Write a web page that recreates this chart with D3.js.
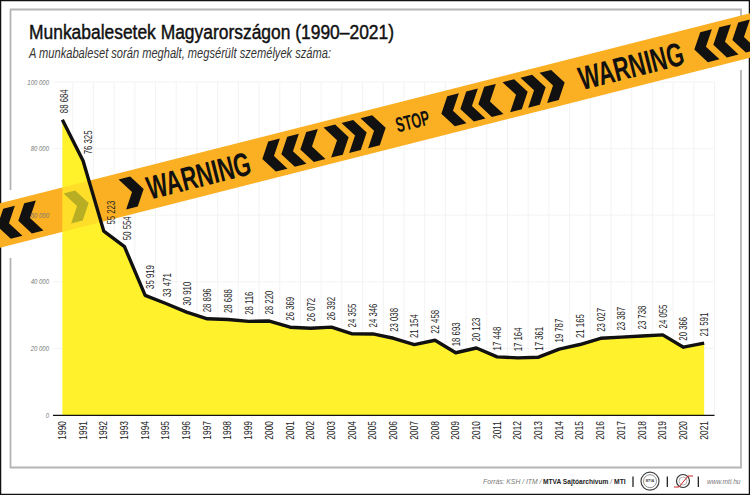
<!DOCTYPE html>
<html>
<head>
<meta charset="utf-8">
<script src="https://cdn.jsdelivr.net/npm/d3@7/dist/d3.min.js"></script>
<style>
    html, body { margin: 0; padding: 0; background: #fff; }
    svg { display: block; }
    text { font-family: "Liberation Sans", sans-serif; }
</style>
</head>
<body>
<svg id="chart" width="750" height="495"></svg>
<script>
var years = [1990, 1991, 1992, 1993, 1994, 1995, 1996, 1997, 1998, 1999, 2000,
    2001, 2002, 2003, 2004, 2005, 2006, 2007, 2008, 2009, 2010,
    2011, 2012, 2013, 2014, 2015, 2016, 2017, 2018, 2019, 2020, 2021];

var accidents = [88684, 76325, 55223, 50554, 35919, 33471, 30910, 28896, 28688, 28116, 28220,
    26369, 26072, 26392, 24355, 24346, 23038, 21154, 22458, 18693, 20123,
    17448, 17164, 17361, 19787, 21165, 23027, 23387, 23738, 24055, 20366, 21591];

var yTicks = [0, 20000, 40000, 60000, 80000, 100000];

var titleText = 'Munkabalesetek Magyarországon (1990–2021)';
var subtitleText = 'A munkabaleset során meghalt, megsérült személyek száma:';

// hand-placed labels on the steep part of the curve
var labelNudge = {1990: 1.5, 1991: 5, 1992: 7.5, 1993: 2.5, 1994: 5, 1995: 1.5};

// tape decoration: position along the strip (page x) and pointing direction
var tapeChevrons = [
    [8, -1], [29, -1], [78, 1], [133, 1],
    [273, -1], [292, -1], [311, -1], [338, 1], [356, 1], [375, 1],
    [452, -1], [471, -1], [489, -1], [517, 1], [535, 1], [554, 1],
    [705, -1], [724, -1], [743, -1]
];
var tapeWords = [
    {text: 'WARNING', from: 147, to: 250, size: 33},
    {text: 'STOP', from: 396, to: 429, size: 21},
    {text: 'WARNING', from: 579, to: 683, size: 33}
];

// footer pieces: text, left, right, bold?
var footerParts = [
    ['Forrás: KSH / ITM /', 483, 541.5, false],
    ['MTVA Sajtóarchívum', 543, 608.5, true],
    ['/', 610, 612, false],
    ['MTI', 614, 625.7, true],
    ['www.mti.hu', 707, 740.5, false]
];

var svg = d3.select('#chart');
var fmt = d3.formatLocale({decimal: ',', thousands: ' ', grouping: [3], currency: ['', '']}).format(',d');

var x = d3.scaleBand().domain(years).range([52, 714.5]);
var y = d3.scaleLinear().domain([0, 100000]).range([415, 82]);
var cx = function (d) { return x(d) + x.bandwidth() / 2; };

// outer border and grey frame (broken where the tape passes)
svg.append('rect').attr('x', 0.5).attr('y', 0.5).attr('width', 749).attr('height', 494)
    .attr('fill', 'none').attr('stroke', '#111').attr('stroke-width', 1.5);
svg.append('path')
    .attr('d', 'M10.5,190V9.5H741V17M741,70V467.5H10.5V258')
    .attr('fill', 'none').attr('stroke', '#b4b4b4').attr('stroke-width', 1.8);

// grid
svg.append('g').selectAll('line').data(yTicks.slice(1)).enter().append('line')
    .attr('x1', 52).attr('x2', 714.5)
    .attr('y1', function (d) { return y(d); }).attr('y2', function (d) { return y(d); })
    .attr('stroke', '#f0f0f0').attr('stroke-width', 0.8);
svg.append('g').selectAll('line').data(years).enter().append('line')
    .attr('x1', function (d) { return x(d) + x.bandwidth(); })
    .attr('x2', function (d) { return x(d) + x.bandwidth(); })
    .attr('y1', 82).attr('y2', 415)
    .attr('stroke', '#f0f0f0').attr('stroke-width', 0.8);

// tape
var tapeAngle = Math.atan(0.2533) * 180 / Math.PI;
var tapeScale = 1 / Math.cos(tapeAngle * Math.PI / 180);
function drawTape(parent) {
    var g = parent.append('g')
        .attr('transform', 'translate(0,225.5) rotate(' + (-tapeAngle) + ')');
    g.append('rect').attr('x', -20).attr('y', -21.5).attr('width', 820).attr('height', 43)
        .attr('fill', '#fbb024');
    g.selectAll('path').data(tapeChevrons).enter().append('path')
        .attr('transform', function (d) {
            return 'translate(' + d[0] * tapeScale + ',0) scale(' + d[1] + ',1)';
        })
        .attr('d', 'M-11,-15.5H1L11,0L1,15.5H-11L-1,0Z')
        .attr('fill', '#111');
    g.selectAll('text').data(tapeWords).enter().append('text')
        .attr('font-size', function (d) { return d.size; })
        .attr('font-weight', 'bold')
        .attr('fill', '#111')
        .text(function (d) { return d.text; })
        .attr('transform', function (d) {
            var k = (d.to - d.from) * tapeScale / this.getComputedTextLength();
            return 'translate(' + d.from * tapeScale + ',' + d.size * 0.36 + ') scale(' + k + ',1)';
        });
}
drawTape(svg);

// yellow area with the tape showing through it
var area = d3.area().x(cx).y0(y(0)).y1(function (d, i) { return y(accidents[i]); });
var areaPath = area(years);
svg.append('path').attr('d', areaPath).attr('fill', '#fff22c');
svg.append('clipPath').attr('id', 'areaClip').append('path').attr('d', areaPath);
var seeThrough = svg.append('g').attr('clip-path', 'url(#areaClip)').attr('opacity', 0.3);
drawTape(seeThrough);

// line
var line = d3.line().x(cx).y(function (d, i) { return y(accidents[i]); });
svg.append('path').attr('d', line(years))
    .attr('fill', 'none').attr('stroke', '#111').attr('stroke-width', 3.4)
    .attr('stroke-linejoin', 'round');

// y axis labels
svg.append('g').selectAll('text').data(yTicks).enter().append('text')
    .attr('transform', function (d) { return 'translate(49,' + (y(d) + 2.5) + ') scale(0.75,1)'; })
    .attr('text-anchor', 'end').attr('font-size', 8).attr('font-style', 'italic')
    .attr('fill', '#777')
    .text(function (d) { return d === 0 ? '0' : fmt(d); });

// baseline and years
svg.append('line').attr('x1', 53).attr('x2', 714.5).attr('y1', 415.3).attr('y2', 415.3)
    .attr('stroke', '#111').attr('stroke-width', 1.3);
svg.append('g').selectAll('text').data(years).enter().append('text')
    .attr('transform', function (d) {
        return 'translate(' + (cx(d) + 3.5) + ',421) rotate(-90) scale(0.84,1)';
    })
    .attr('text-anchor', 'end').attr('font-size', 10).attr('fill', '#222')
    .text(function (d) { return d; });

// value labels
svg.append('g').selectAll('text').data(years).enter().append('text')
    .attr('transform', function (d, i) {
        var dx = 4 + (labelNudge[d] || 0);
        return 'translate(' + (cx(d) + dx) + ',' + (y(accidents[i]) - 6.5) + ') rotate(-90) scale(0.78,1)';
    })
    .attr('font-size', 10).attr('fill', '#222')
    .text(function (d, i) { return fmt(accidents[i]); });

// titles
svg.append('text').attr('x', 29).attr('y', 39).attr('font-size', 20)
    .attr('textLength', 365).attr('lengthAdjust', 'spacingAndGlyphs')
    .attr('fill', '#111').attr('stroke', '#111').attr('stroke-width', 0.45)
    .text(titleText);
svg.append('text').attr('x', 29).attr('y', 58).attr('font-size', 14)
    .attr('textLength', 302).attr('lengthAdjust', 'spacingAndGlyphs')
    .attr('font-style', 'italic').attr('fill', '#333')
    .text(subtitleText);

// footer, each piece squeezed to its measured width
svg.append('g').selectAll('text').data(footerParts).enter().append('text')
    .attr('font-size', 8)
    .attr('font-style', function (d) { return d[3] ? 'normal' : 'italic'; })
    .attr('font-weight', function (d) { return d[3] ? 'bold' : 'normal'; })
    .attr('fill', function (d) { return d[3] ? '#222' : '#777'; })
    .text(function (d) { return d[0]; })
    .attr('transform', function (d) {
        var k = (d[2] - d[1]) / this.getComputedTextLength();
        return 'translate(' + d[1] + ',484) scale(' + k + ',1)';
    });

// separators
svg.append('g').selectAll('line').data([633, 667.3, 698.3]).enter().append('line')
    .attr('x1', function (d) { return d; }).attr('x2', function (d) { return d; })
    .attr('y1', 476.5).attr('y2', 487).attr('stroke', '#111').attr('stroke-width', 1.2);

// logos
svg.append('circle').attr('cx', 650).attr('cy', 481.2).attr('r', 9)
    .attr('fill', 'none').attr('stroke', '#444').attr('stroke-width', 1.2);
svg.append('circle').attr('cx', 650).attr('cy', 481.2).attr('r', 6.5)
    .attr('fill', 'none').attr('stroke', '#777').attr('stroke-width', 0.8);
svg.append('text').attr('x', 650).attr('y', 482.3).attr('text-anchor', 'middle')
    .attr('font-size', 3).attr('font-weight', 'bold').attr('fill', '#333').text('MTVA');
svg.append('circle').attr('cx', 683).attr('cy', 481).attr('r', 6.5)
    .attr('fill', 'none').attr('stroke', '#333').attr('stroke-width', 1.2);
svg.append('circle').attr('cx', 683).attr('cy', 481).attr('r', 4)
    .attr('fill', 'none').attr('stroke', '#888').attr('stroke-width', 0.6);
svg.append('path').attr('d', 'M674,487H679L688,476H693')
    .attr('fill', 'none').attr('stroke', '#c22').attr('stroke-width', 1);
</script>
</body>
</html>
